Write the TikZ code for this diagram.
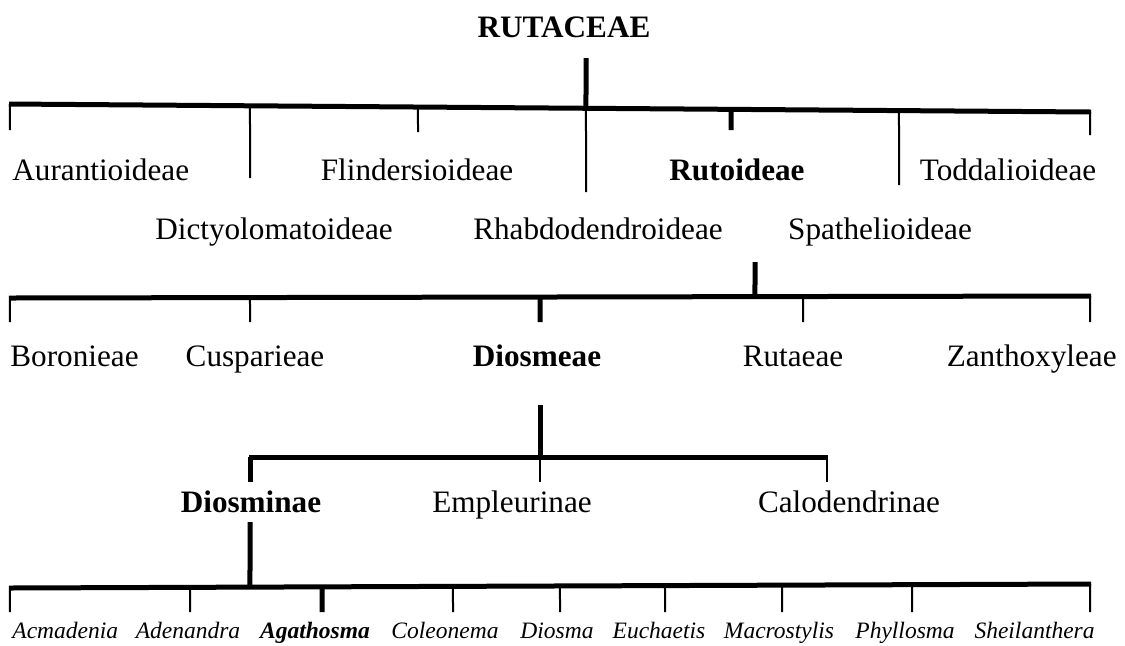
\documentclass[tikz,border=0pt]{standalone}
\usepackage{fontspec}
\setmainfont{Liberation Serif}
\usetikzlibrary{calc}
\tikzset{
  taxon/.style={inner sep=0pt,anchor=base,font=\fontsize{15.6}{18}\selectfont},
  genus/.style={inner sep=0pt,anchor=base,font=\fontsize{11.75}{14}\selectfont\itshape},
  bar/.style={line width=2.5pt},
  stem/.style={line width=2.5pt},
  tickthin/.style={line width=1pt},
  tickthick/.style={line width=2.5pt}
}
\begin{document}
\begin{tikzpicture}[x=0.5pt,y=-0.5pt]
 \useasboundingbox (0,0) rectangle (1125,645);

 \node[taxon] (rutaceae) at (564,37) {\textbf{RUTACEAE}};
 \coordinate (sA) at (586,58);
 \coordinate (bAl) at (9,104);
 \coordinate (bAr) at (1091,112);
 \coordinate (jA) at ($(bAl)!{(586-9)/1082}!(bAr)$);
 \draw[bar] (bAl) -- (bAr);
 \draw[stem] (sA) -- (jA);
 \foreach \x/\y/\s [count=\i] in {10/130/tickthin,250/178/tickthin,418/132/tickthin,586/192/tickthin,731/130/tickthick,899/185/tickthin,1090/135/tickthin}{
   \coordinate (tA\i) at ($(bAl)!{(\x-9)/1082}!(bAr)$);
   \coordinate (eA\i) at (\x,\y);
   \draw[\s] (tA\i) -- (eA\i);
 }
 \node[taxon,anchor=base west] (aurantioideae) at (12,180) {Aurantioideae};
 \node[taxon] (flindersioideae) at (417,180) {Flindersioideae};
 \node[taxon] (rutoideae) at (737,180) {\textbf{Rutoideae}};
 \node[taxon] (toddalioideae) at (1008,180) {Toddalioideae};
 \node[taxon] (dictyolomatoideae) at (274,239) {Dictyolomatoideae};
 \node[taxon] (rhabdodendroideae) at (598,239) {Rhabdodendroideae};
 \node[taxon] (spathelioideae) at (880,239) {Spathelioideae};

 \coordinate (sB) at (755,262);
 \coordinate (bBl) at (9,298);
 \coordinate (bBr) at (1091,296);
 \coordinate (jB) at ($(bBl)!{(755-9)/1082}!(bBr)$);
 \draw[bar] (bBl) -- (bBr);
 \draw[stem] (sB) -- (jB);
 \foreach \x/\y/\s [count=\i] in {10/322/tickthin,250/322/tickthin,540/322/tickthick,803/322/tickthin,1090/322/tickthin}{
   \coordinate (tB\i) at ($(bBl)!{(\x-9)/1082}!(bBr)$);
   \coordinate (eB\i) at (\x,\y);
   \draw[\s] (tB\i) -- (eB\i);
 }
 \node[taxon,anchor=base west] (boronieae) at (10,366) {Boronieae};
 \node[taxon] (cusparieae) at (255,366) {Cusparieae};
 \node[taxon] (diosmeae) at (537,366) {\textbf{Diosmeae}};
 \node[taxon] (rutaeae) at (793,366) {Rutaeae};
 \node[taxon,anchor=base east] (zanthoxyleae) at (1117,366) {Zanthoxyleae};

 \coordinate (sC) at (540,405);
 \coordinate (bCl) at (249,457);
 \coordinate (bCr) at (828,457);
 \coordinate (jC) at (540,457);
 \draw[bar] (bCl) -- (bCr);
 \draw[stem] (sC) -- (jC);
 \foreach \x/\s [count=\i] in {250/tickthick,540/tickthin,827/tickthin}{
   \coordinate (tC\i) at (\x,457);
   \coordinate (eC\i) at (\x,482);
   \draw[\s] (tC\i) -- (eC\i);
 }
 \node[taxon] (diosminae) at (251,512) {\textbf{Diosminae}};
 \node[taxon] (empleurinae) at (512,512) {Empleurinae};
 \node[taxon] (calodendrinae) at (849,512) {Calodendrinae};

 \coordinate (sD) at (250,522);
 \coordinate (bDl) at (9,588);
 \coordinate (bDr) at (1091,584);
 \coordinate (jD) at ($(bDl)!{(250-9)/1082}!(bDr)$);
 \draw[bar] (bDl) -- (bDr);
 \draw[stem] (sD) -- (jD);
 \foreach \x/\s [count=\i] in {10/tickthin,190/tickthin,322/tickthick,453/tickthin,560/tickthin,665/tickthin,782/tickthin,912/tickthin,1090/tickthin}{
   \coordinate (tD\i) at ($(bDl)!{(\x-9)/1082}!(bDr)$);
   \coordinate (eD\i) at (\x,612);
   \draw[\s] (tD\i) -- (eD\i);
 }
 \node[genus,anchor=base west] (acmadenia) at (12,638) {Acmadenia};
 \node[genus] (adenandra) at (188,638) {Adenandra};
 \node[genus] (agathosma) at (315,638) {\textbf{Agathosma}};
 \node[genus] (coleonema) at (445,638) {Coleonema};
 \node[genus] (diosma) at (557,638) {Diosma};
 \node[genus] (euchaetis) at (659,638) {Euchaetis};
 \node[genus] (macrostylis) at (779,638) {Macrostylis};
 \node[genus] (phyllosma) at (905,638) {Phyllosma};
 \node[genus,anchor=base east] (sheilanthera) at (1095,638) {Sheilanthera};
\end{tikzpicture}
\end{document}
